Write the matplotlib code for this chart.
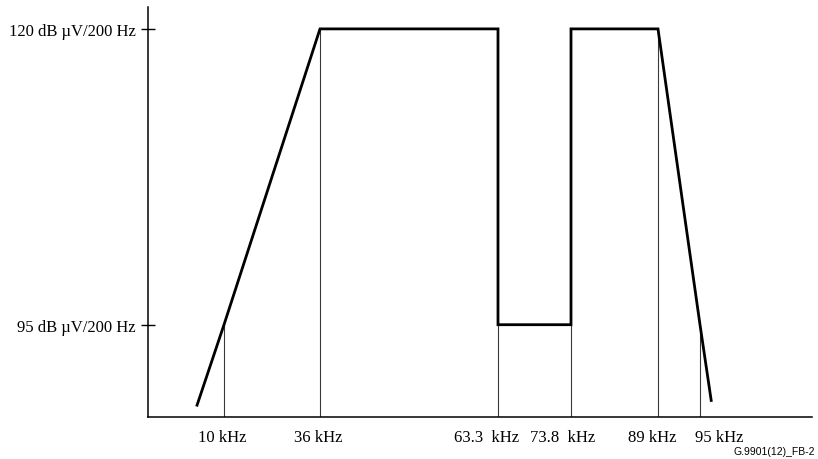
"""
PSD mask sketch (G.9901 FB-2): schematic frequency axis, dB uV/200 Hz levels.
"""
import numpy as np
import matplotlib
matplotlib.use("Agg")
import matplotlib.pyplot as plt
import matplotlib.transforms as mtransforms

# ---- data ----
mask_khz = [2.7, 10, 36, 63.3, 63.3, 73.8, 73.8, 89, 95, 96.6]
mask_db = [88.2, 95, 120, 120, 95, 95, 120, 120, 95, 88.6]

marker_khz = [10, 36, 63.3, 73.8, 89, 95]
marker_top_db = [95, 120, 95, 95, 120, 95]
x_labels = ["10 kHz", "36 kHz", "63.3  kHz", "73.8  kHz", "89 kHz", "95 kHz"]

y_levels = [95, 120]
y_labels = ["95 dB µV/200 Hz", "120 dB µV/200 Hz"]

# schematic (non-linear) frequency axis: kHz -> drawing position
AXIS_KHZ = [-50, 10, 36, 63.3, 73.8, 89, 95, 200]
AXIS_POS = [2.5, 224, 320, 498, 571, 658, 700, 1435]
# small horizontal nudges of the tick labels, in pixels (as drawn in the original)
label_nudge_px = [-2, -2, -11, -8, -6, 19]


def fwd(x):
    return np.interp(x, AXIS_KHZ, AXIS_POS)


def inv(p):
    return np.interp(p, AXIS_POS, AXIS_KHZ)


plt.rcParams["font.family"] = ["Liberation Serif", "DejaVu Serif"]

fig = plt.figure(figsize=(8.18, 4.6), dpi=100)
ax = fig.add_axes([148 / 818, 42 / 460, 664 / 818, 410 / 460])
ax.set_xscale("function", functions=(fwd, inv))
ax.set_xlim(inv(148), inv(812))
y_bottom = 87.2
ax.set_ylim(y_bottom, 121.85)

# thin drop lines from the axis up to the mask
ax.vlines(marker_khz, y_bottom, marker_top_db, color="#3a3a3a", lw=0.8)

# the mask
ax.plot(mask_khz, mask_db, color="black", lw=2.0, solid_joinstyle="miter")

for s in ("top", "right"):
    ax.spines[s].set_visible(False)
for s in ("left", "bottom"):
    ax.spines[s].set_linewidth(1.1)

ax.set_xticks(marker_khz)
ax.set_xticklabels(x_labels, fontsize=12)
ax.xaxis.set_minor_locator(matplotlib.ticker.NullLocator())
ax.tick_params(axis="x", length=0, pad=9)
for lab, dx in zip(ax.get_xticklabels(), label_nudge_px):
    lab.set_transform(lab.get_transform() +
                      mtransforms.ScaledTranslation(dx / 100, 0, fig.dpi_scale_trans))

ax.set_yticks(y_levels)
ax.set_yticklabels(y_labels, fontsize=12)
ax.yaxis.set_minor_locator(matplotlib.ticker.NullLocator())
ax.tick_params(axis="y", direction="inout", length=10, width=1.0, pad=4)

fig.text(815 / 818, 8 / 460, "G.9901(12)_FB-2", ha="right", va="center",
         fontsize=7.5, family=["Liberation Sans", "DejaVu Sans"])

fig.savefig("out.png", dpi=100)
